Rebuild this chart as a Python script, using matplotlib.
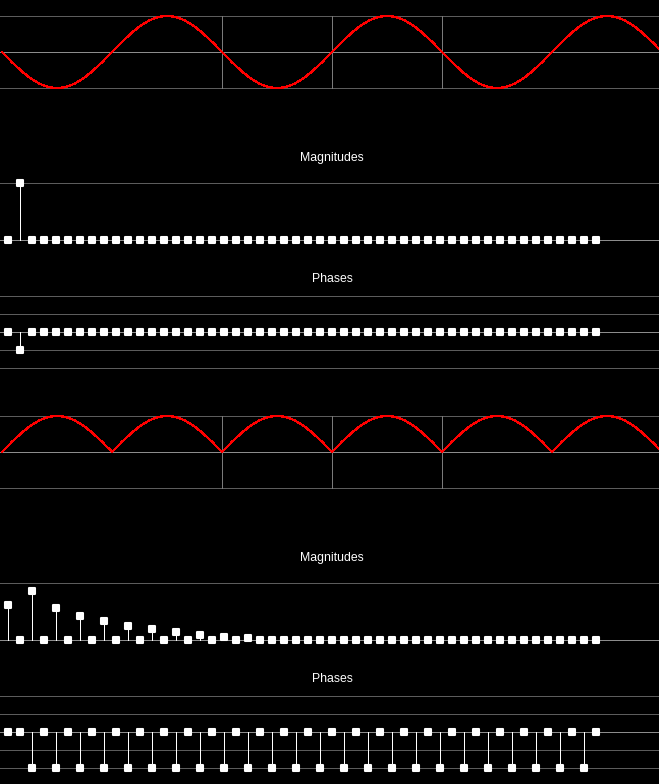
import numpy as np
import matplotlib
matplotlib.use('Agg')
import matplotlib.pyplot as plt
from matplotlib.markers import MarkerStyle

W, H = 659, 784
pi = np.pi

# signal: 3 periods of a sine, shown as -sin and |sin|
n_periods = 3
t = np.linspace(0, n_periods, 1500)
sig_sine = -np.sin(2 * pi * t)
sig_abs = np.abs(np.sin(2 * pi * t))
vlines_t = [1, 1.5, 2]

# spectrum of the sine
mag_sine = [0, 1] + [0] * 48
phase_sine = [0, -pi / 2] + [0] * 48

# spectrum of |sine|
mag_abs = [0.62, 0, 0.853, 0, 0.567, 0, 0.426, 0, 0.339, 0,
           0.251, 0, 0.198, 0, 0.146, 0, 0.093, 0, 0.058, 0,
           0.035] + [0] * 29
phase_abs = [0, 0] + [-pi, 0] * 24

bins = np.arange(len(mag_sine))

dark = '#5c5c5c'
mid = '#8c8c8c'
vcol = '#7a7a7a'
lw = 0.72

fig = plt.figure(figsize=(W / 100, H / 100), dpi=100, facecolor='black')


def px_axes(x0, y0, x1, y1):
    ax = fig.add_axes([x0 / W, 1 - y1 / H, (x1 - x0) / W, (y1 - y0) / H])
    ax.set_facecolor('black')
    ax.axis('off')
    return ax


def hline(ax, v, c):
    ax.axhline(v, color=c, lw=lw, clip_on=False, antialiased=False)


def wave_plot(y0, y1, sig):
    ax = px_axes(0, y0, W, y1)
    ax.set_xlim(-2 / 220, 657 / 220)
    ax.set_ylim(-1, 1)
    for v, c in [(-1, dark), (0, mid), (1, dark)]:
        hline(ax, v, c)
    for v in vlines_t:
        ax.axvline(v, color=vcol, lw=lw, clip_on=False, antialiased=False)
    ax.plot(t, sig, color='#ff0000', lw=0.9, clip_on=False, antialiased=False)


sq = MarkerStyle('s', joinstyle='round')


def stems(ax, vals):
    ax.vlines(bins, 0, vals, color='white', lw=lw, clip_on=False, zorder=3,
              antialiased=False)
    ax.plot(bins, vals, ls='none', marker=sq, ms=4.5, mew=1.5,
            mfc='white', mec='white', clip_on=False, zorder=4)


def mag_plot(y0, y1, vals, ty):
    ax = px_axes(0, y0, W, y1)
    ax.set_xlim(-8 / 12, 651 / 12)
    ax.set_ylim(0, 1)
    hline(ax, 1, dark)
    hline(ax, 0, mid)
    stems(ax, vals)
    fig.text(332 / W, 1 - ty / H, 'Magnitudes', color='white',
             ha='center', va='center', fontsize=8.8, family='Liberation Sans')


def phase_plot(y0, y1, vals, ty):
    ax = px_axes(0, y0, W, y1)
    ax.set_xlim(-8 / 12, 651 / 12)
    ax.set_ylim(-pi, pi)
    for v in [-pi, -pi / 2, pi / 2, pi]:
        hline(ax, v, dark)
    hline(ax, 0, mid)
    stems(ax, vals)
    fig.text(332 / W, 1 - ty / H, 'Phases', color='white',
             ha='center', va='center', fontsize=8.8, family='Liberation Sans')


wave_plot(16, 88, sig_sine)
mag_plot(183, 240, mag_sine, 158.5)
phase_plot(296, 368, phase_sine, 278.5)

wave_plot(416, 488, sig_abs)
mag_plot(583, 640, mag_abs, 558.5)
phase_plot(696, 768, phase_abs, 678.5)

fig.savefig('out.png', dpi=100, facecolor='black')
